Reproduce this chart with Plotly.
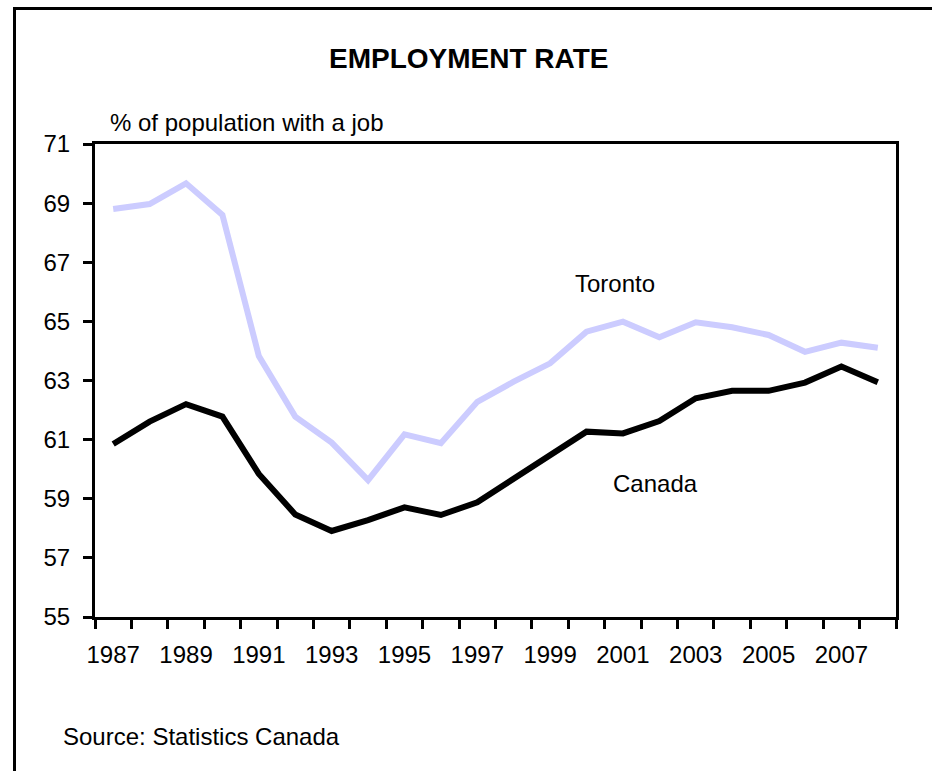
import plotly.graph_objects as go

years = [str(y) for y in range(1987, 2009)]
toronto = [68.80, 68.97, 69.67, 68.60, 63.83, 61.78, 60.90, 59.63, 61.18, 60.88, 62.28,
           62.96, 63.58, 64.65, 64.99, 64.46, 64.97, 64.80, 64.54, 63.97, 64.28, 64.11]
canada = [60.85, 61.61, 62.20, 61.78, 59.84, 58.47, 57.91, 58.28, 58.71, 58.45, 58.88,
          59.69, 60.51, 61.27, 61.21, 61.63, 62.40, 62.65, 62.65, 62.93, 63.47, 62.94]
x_labels = [y if (int(y) - 1987) % 2 == 0 else "" for y in years]
y_ticks = [55, 57, 59, 61, 63, 65, 67, 69, 71]

W, H = 932, 771
L, R, T, B = 95, 36, 144, 154
PW, PH = W - L - R, H - T - B


def px(x):
    return (x - L) / PW


def py(y):
    return (H - B - y) / PH


FONT = "Liberation Sans, Arial, sans-serif"

fig = go.Figure()
fig.add_trace(go.Scatter(x=years, y=toronto, mode="lines", name="Toronto",
                         line=dict(color="#CCCCFF", width=6)))
fig.add_trace(go.Scatter(x=years, y=canada, mode="lines", name="Canada",
                         line=dict(color="#000000", width=6)))

fig.update_layout(
    width=W, height=H,
    margin=dict(l=L, r=R, t=T, b=B),
    paper_bgcolor="white", plot_bgcolor="white",
    showlegend=False,
    font=dict(family=FONT, size=24, color="black"),
)
fig.update_xaxes(
    type="category", range=[-0.5, len(years) - 0.5],
    tickmode="array", tickvals=years, ticktext=x_labels, tickangle=0,
    tickson="boundaries", ticks="outside", ticklen=9, tickwidth=3, tickcolor="black",
    showline=True, linewidth=3, linecolor="black", mirror=True,
    showgrid=False, zeroline=False, ticklabelstandoff=14,
    tickfont=dict(family=FONT, size=24, color="black"),
)
fig.update_yaxes(
    range=[55, 71], tickmode="array", tickvals=y_ticks,
    ticks="outside", ticklen=9, tickwidth=3, tickcolor="black",
    showline=True, linewidth=3, linecolor="black", mirror=True,
    showgrid=False, zeroline=False, ticklabelstandoff=8,
    tickfont=dict(family=FONT, size=24, color="black"),
)

ann = [
    dict(text="<b>EMPLOYMENT RATE</b>", x=px(468), y=py(59), font=dict(size=28),
         xanchor="center", yanchor="middle"),
    dict(text="% of population with a job", x=px(108), y=py(123),
         xanchor="left", yanchor="middle"),
    dict(text="Toronto", x=px(615), y=py(283), xanchor="center", yanchor="middle"),
    dict(text="Canada", x=px(655), y=py(483), xanchor="center", yanchor="middle"),
    dict(text="Source: Statistics Canada", x=px(61), y=py(736),
         xanchor="left", yanchor="middle"),
]
for a in ann:
    fig.add_annotation(xref="paper", yref="paper", showarrow=False, **a)

fig.add_shape(type="rect", xref="paper", yref="paper",
              x0=px(14.5), x1=px(990), y0=py(830), y1=py(8.5),
              line=dict(color="black", width=3), fillcolor="rgba(0,0,0,0)", layer="above")

fig.write_html("out.html")
